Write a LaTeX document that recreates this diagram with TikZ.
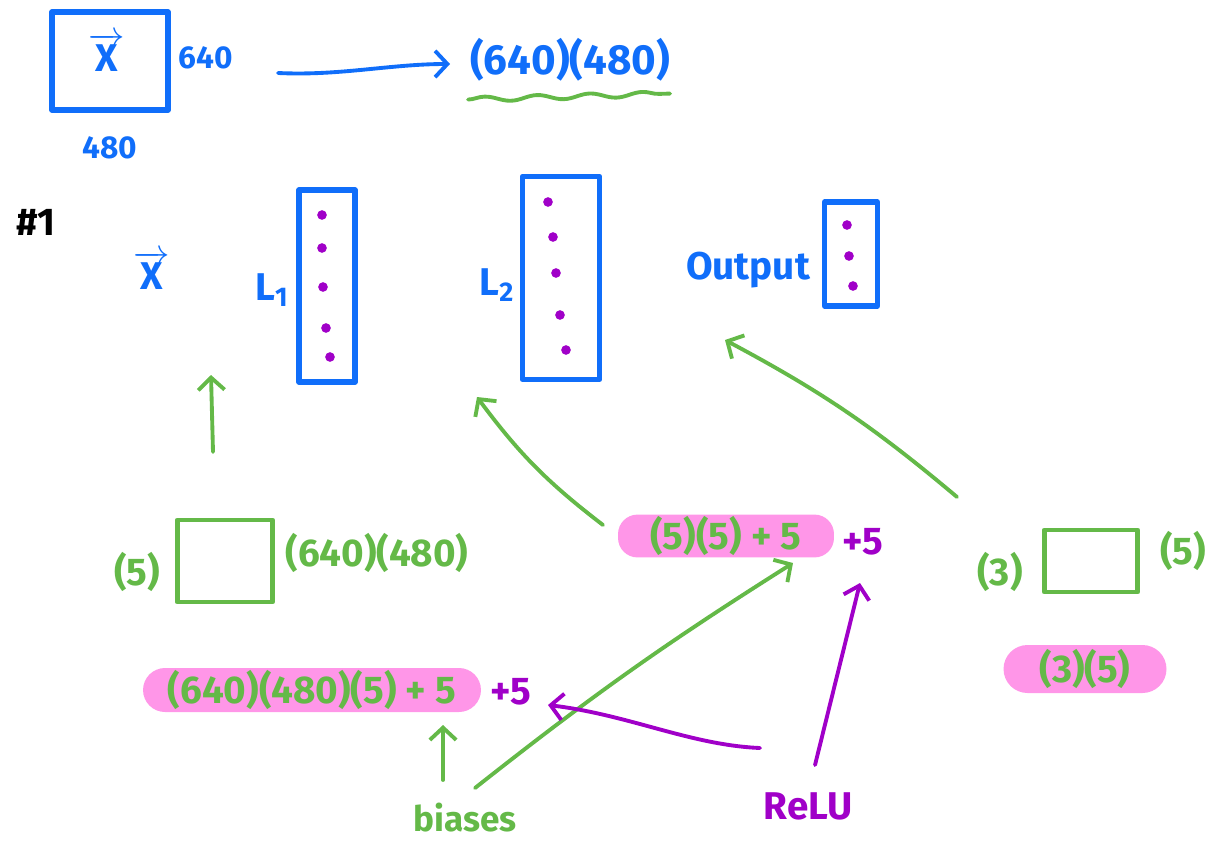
\documentclass[tikz,border=0pt]{standalone}
\usepackage{fontspec}
\setmainfont{Fira Sans}
\usetikzlibrary{arrows.meta,decorations.pathmorphing}

\definecolor{inkblue}{RGB}{16,110,250}
\definecolor{inkgreen}{RGB}{100,185,72}
\definecolor{inkpurple}{RGB}{160,0,200}
\definecolor{marker}{RGB}{255,150,232}

\tikzstyle{hand}=[line width=2.2pt,line cap=round,line join=round]
\tikzstyle{ink}=[font=\fontsize{22}{24}\selectfont\bfseries,inner sep=1pt]

\begin{document}
\begin{tikzpicture}[x=0.02cm,y=-0.02cm,>={Straight Barb[length=7pt,width=15pt]}]
\tikzstyle{layer}=[shape=rectangle,draw=inkblue,hand,line width=3pt]
\tikzstyle{weights}=[shape=rectangle,draw=inkgreen,hand,line width=2.8pt]
\tikzstyle{unit}=[shape=circle,fill=inkpurple,inner sep=0pt,minimum size=5.5pt]
\tikzstyle{sum}=[shape=rectangle,fill=marker,text=inkgreen]
\useasboundingbox (0,0) rectangle (1212,845);
% input image
\node[layer,minimum width=2.32cm,minimum height=1.96cm] (img) at (110,61) {};
\node[ink,text=inkblue] (imgx) at (107,52) {$\overrightarrow{\mbox{X}}$};
\node[ink,text=inkblue,font=\fontsize{18}{20}\selectfont\bfseries] (w640) at (206,58) {640};
\node[ink,text=inkblue,font=\fontsize{18}{20}\selectfont\bfseries] (h480) at (110,148) {480};
\node[ink,text=inkblue,font=\fontsize{24}{26}\selectfont\bfseries] (flat) at (570,60) {(640)(480)};
\coordinate (a0) at (278,73);
\coordinate (a1) at (450,64);
\draw[hand,inkblue,->] (a0) .. controls (340,76) and (390,64) .. (a1);
\draw[hand,inkgreen,decorate,decoration={snake,amplitude=1.4pt,segment length=30pt}]
    (flat.south west) ++(0,16) -- ++(202,-6);
\node[ink,font=\fontsize{22}{24}\selectfont\bfseries,inner sep=0pt] (net1) at (36,222) {\#1};
% layers
\node[ink,text=inkblue] (xin) at (152,270) {$\overrightarrow{\mbox{X}}$};
\node[ink,text=inkblue] (l1name) at (272,290) {L\textsubscript{1}};
\node[layer,minimum width=1.12cm,minimum height=3.84cm] (l1) at (327,286) {};
\node[ink,text=inkblue] (l2name) at (497,285) {L\textsubscript{2}};
\node[layer,minimum width=1.54cm,minimum height=4.06cm] (l2) at (561,278) {};
\node[ink,text=inkblue] (outname) at (748,270) {Output};
\node[layer,minimum width=1.06cm,minimum height=2.08cm] (out) at (851,254) {};
\foreach \i/\x/\y in {1/322/215,2/322/248,3/323/287,4/326/328,5/330/357}
    \node[unit] (u1-\i) at (\x,\y) {};
\foreach \i/\x/\y in {1/548/202,2/553/237,3/556/273,4/560/315,5/566/350}
    \node[unit] (u2-\i) at (\x,\y) {};
\foreach \i/\x/\y in {1/847/225,2/849/256,3/853/286}
    \node[unit] (u3-\i) at (\x,\y) {};
% weights
\node[ink,text=inkgreen] (w1rows) at (137,572) {(5)};
\node[weights,minimum width=1.9cm,minimum height=1.64cm] (w1) at (225,561) {};
\node[ink,text=inkgreen] (w1cols) at (377,553) {(640)(480)};
\node[ink,text=inkgreen] (w3rows) at (1000,572) {(3)};
\node[weights,minimum width=1.86cm,minimum height=1.24cm] (w3) at (1091,561) {};
\node[ink,text=inkgreen] (w3cols) at (1183,551) {(5)};
% parameter counts
\node[ink,sum,minimum width=6.76cm,minimum height=0.88cm,rounded corners=0.44cm] (p1) at (312,690) {(640)(480)(5) + 5};
\node[ink,text=inkpurple] (b1) at (511,692) {+5};
\node[ink,sum,minimum width=4.32cm,minimum height=0.78cm,rounded corners=0.39cm] (p2) at (726,536) {(5)(5) + 5};
\node[ink,text=inkpurple] (b2) at (863,542) {+5};
\node[ink,sum,minimum width=3.26cm,minimum height=0.96cm,rounded corners=0.48cm] (p3) at (1085,669) {(3)(5)};
\node[ink,text=inkgreen,font=\fontsize{20}{22}\selectfont\bfseries] (biases) at (465,818) {biases};
\node[ink,text=inkpurple] (relu) at (808,806) {ReLU};
% arrows
\coordinate (g1s) at (213,452);
\coordinate (g1e) at (211,375);
\coordinate (g2s) at (603,525);
\coordinate (g2e) at (477,397);
\coordinate (g3s) at (957,497);
\coordinate (g3e) at (725,340);
\coordinate (g4s) at (443,780);
\coordinate (g4e) at (443,725);
\coordinate (g5s) at (475,788);
\coordinate (g5e) at (793,563);
\coordinate (r1s) at (815,765);
\coordinate (r1e) at (860,583);
\coordinate (r2s) at (760,748);
\coordinate (r2e) at (548,705);
\draw[hand,inkgreen,->] (g1s) -- (g1e);
\draw[hand,inkgreen,->] (g2s) to[bend left=8] (g2e);
\draw[hand,inkgreen,->] (g3s) to[bend right=6] (g3e);
\draw[hand,inkgreen,->] (g4s) -- (g4e);
\draw[hand,inkgreen,->] (g5s) to[bend left=3] (g5e);
\draw[hand,inkpurple,->] (r1s) -- (r1e);
\draw[hand,inkpurple,->] (r2s) .. controls (690,745) and (630,715) .. (r2e);
\end{tikzpicture}
\end{document}
